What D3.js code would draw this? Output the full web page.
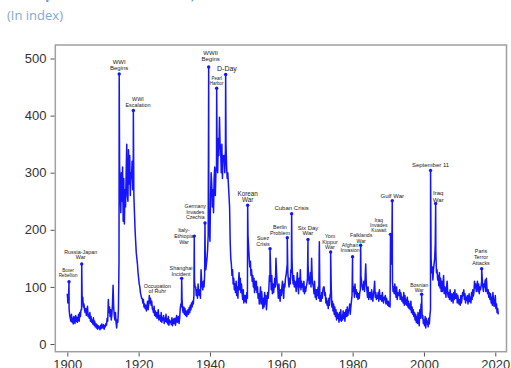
<!DOCTYPE html>
<html><head><meta charset="utf-8">
<script src="https://cdn.jsdelivr.net/npm/d3@7"></script>
<style>
body{margin:0;background:#fff;}
svg{display:block;font-family:"Liberation Sans",Arial,Helvetica,sans-serif;}
</style>
</head><body>
<svg id="chart" width="511" height="368"></svg>
<script>
// ---------- DATA ----------
const startYear = 1900;
const samplesPerYear = 6;   // one value every two months
const gprRows = [
 [88,72,80,62,50,45],[40,52,38,45,35,48],[42,36,50,40,47,38],[45,52,40,55,48,60],[60,75,82,65,70,60],
 [55,62,50,58,66,48],[52,45,55,40,48,38],[42,35,46,33,40,30],[36,28,34,26,32,28],[30,25,33,27,35,29],
 [28,34,26,32,30,36],[33,45,40,78,55,65],[48,60,42,52,70,103],[65,50,42,55,38,28],[42,38,60,145,310,275],
 [230,300,250,310,215,290],[210,270,240,300,350,260],[250,340,280,330,260,300],[290,320,270,330,260,230],[200,180,160,150,140,125],
 [115,105,100,90,85,80],[80,72,78,65,70,62],[68,58,64,75,60,70],[85,72,80,68,75,62],[60,55,66,50,58,48],
 [55,45,52,60,42,50],[48,40,55,38,46,42],[50,36,45,40,52,38],[44,35,48,33,42,38],[40,34,46,32,38,44],
 [36,45,33,42,50,38],[42,48,36,45,62,70],[65,80,60,55,65,52],[62,50,58,48,55,60],[52,64,55,68,60,72],
 [65,75,70,85,110,100],[100,85,95,80,105,90],[85,95,80,130,110,100],[95,110,100,120,160,130],[140,150,165,190,240,200],
 [180,260,300,280,240,270],[230,290,310,260,300,310],[330,300,360,330,397,350],[340,300,350,290,330,320],[330,300,340,350,310,290],
 [300,280,260,240,180,150],[140,120,130,105,115,95],[105,90,110,85,100,80],[110,125,95,115,90,105],[90,78,95,72,85,75],
 [85,72,90,80,190,170],[150,135,145,120,130,110],[120,100,115,90,110,95],[110,90,100,80,88,70],[85,100,70,92,78,62],
 [80,65,90,70,85,60],[75,90,80,95,120,110],[135,95,120,88,105,90],[100,115,100,150,125,105],[100,80,105,85,75,95],
 [85,100,110,90,80,105],[100,115,120,130,140,125],[110,100,115,105,130,125],[150,115,105,120,100,110],[105,92,110,125,100,88],
 [115,100,130,95,110,100],[105,92,110,88,100,92],[100,105,115,140,115,105],[110,125,100,150,115,105],[100,88,110,82,95,78],
 [95,85,100,80,179,75],[85,75,90,80,95,100],[100,85,90,72,80,68],[75,62,80,68,85,90],[100,65,75,58,70,52],
 [65,48,60,42,55,45],[52,38,55,42,60,40],[50,42,58,45,55,40],[55,60,48,65,50,58],[60,70,52,65,75,85],
 [110,92,100,82,105,88],[95,82,90,78,88,80],[90,95,120,110,100,95],[100,110,92,115,140,105],[95,82,100,78,90,82],
 [90,78,95,82,75,88],[95,110,82,90,78,85],[80,90,75,95,82,78],[85,75,90,78,72,82],[78,85,70,80,74,68],
 [75,66,72,65,160,140],[175,110,92,100,88,105],[95,82,100,78,90,85],[85,95,78,90,82,75],[82,72,90,68,85,70],
 [78,68,82,65,75,62],[70,60,75,55,65,52],[60,48,55,42,52,38],[48,36,55,40,32,60],[45,70,60,45,50,36],
 [42,32,48,28,45,35],[40,30,45,35,50,60],[150,125,135,112,130,140],[150,175,160,125,130,112],[120,102,125,98,115,92],
 [110,92,105,120,88,100],[95,82,100,110,88,82],[90,78,95,82,75,88],[85,72,90,78,95,80],[80,88,72,85,76,70],
 [78,68,85,72,80,90],[85,95,78,88,72,82],[76,85,70,80,88,74],[82,72,90,78,95,84],[90,110,98,105,92,100],
 [110,92,105,88,100,95],[100,110,115,100,92,105],[100,112,92,115,98,88],[95,82,90,78,88,72],[82,68,90,76,66,75],
 [85,62,70,55,62,52]
];

const eventLabels = ["Boxer\nRebellion","Russia-Japan\nWar","WWI\nBegins","WWI\nEscalation","Occupation\nof Ruhr",
 "Shanghai\nIncident","Italy-\nEthiopia\nWar","Germany\nInvades\nCzechia","WWII\nBegins","Pearl\nHarbor","D-Day",
 "Korean\nWar","Suez\nCrisis","Berlin\nProblem","Cuban Crisis","Six Day\nWar","Yom\nKippur\nWar","Afghan\nInvasion",
 "Falklands\nWar","Iraq\nInvades\nKuwait","Gulf War","Bosnian\nWar","September 11","Iraq\nWar","Paris\nTerror\nAttacks"];
const eventDates = [1900.48,1904.04,1914.55,1918.52,1923.0,1932.07,1935.6,1938.6,1939.64,1941.88,1944.4,
 1950.57,1956.84,1961.68,1962.9,1967.48,1973.84,1979.98,1982.25,1990.62,1991.11,1999.35,2001.85,2003.28,2016.18];
const eventValues = [109,140,473,409,85,115,189,212,485,448,472,243,167,186,228,183,161,153,173,192,251,87,304,246,132];
const eventMarked = [1,1,1,1,0,1,1,1,1,1,1,1,1,1,1,1,1,1,1,1,1,1,1,1,1];

const xTickValues = [1900,1920,1940,1960,1980,2000,2020];
const yTickValues = [0,100,200,300,400,500];
const subtitle = "(In index)";
const title = "Geopolitical Risk Index, 1900–2020";

// ---------- LAYOUT (label offsets from the marker, font sizes) ----------
const labelLayout = {
 "Boxer\nRebellion":[-1,-11,4.5,4.6], "Russia-Japan\nWar":[-1,-12.3,5.4,5.4], "WWI\nBegins":[0,-11.5,6,5.8],
 "WWI\nEscalation":[4.6,-11.4,5.4,6], "Occupation\nof Ruhr":[8,-9.6,5.4,5.2], "Shanghai\nIncident":[-0.7,-10.3,5.4,5.5],
 "Italy-\nEthiopia\nWar":[-10.3,-6,5.4,5.8], "Germany\nInvades\nCzechia":[-9.7,-17,5.2,5.6], "WWII\nBegins":[2,-14,6,6.2],
 "Pearl\nHarbor":[0,-10,4.5,5], "D-Day":[1.3,-6,7,7], "Korean\nWar":[0,-12,6.3,6],
 "Suez\nCrisis":[-7,-10.3,5.4,5.8], "Berlin\nProblem":[-7.3,-10.6,5.4,5.4], "Cuban Crisis":[0,-5.6,6,6],
 "Six Day\nWar":[0,-11.7,6,5.5], "Yom\nKippur\nWar":[-0.7,-16,5.4,5.5], "Afghan\nInvasion":[-2.5,-11.6,5.2,5.4],
 "Falklands\nWar":[0.5,-9.8,5.2,5.2], "Iraq\nInvades\nKuwait":[-11.7,-14.3,5,5], "Gulf War":[0,-5,6,6],
 "Bosnian\nWar":[-2.4,-9.7,5,5.7], "September 11":[0,-5,6,6], "Iraq\nWar":[2.6,-10.6,6,7.2],
 "Paris\nTerror\nAttacks":[-0.7,-17.6,5.4,6]
};

// ---------- BUILD SERIES ----------
const series = [];
gprRows.forEach((row, i) => row.forEach((v, j) => series.push({date: startYear + i + j / samplesPerYear, value: v})));
const events = eventLabels.map((l, i) => ({label: l, date: eventDates[i], value: eventValues[i], marked: !!eventMarked[i]}));
events.filter(e => e.marked).forEach(e => series.push({date: e.date, value: e.value}));
series.sort((a, b) => a.date - b.date);

// ---------- DRAW ----------
const svg = d3.select("#chart");
const frame = {left: 55.3, right: 506.5, top: 45, bottom: 351.7};
const x = d3.scaleLinear().domain([1900, 2020]).range([67.3, 495.3]);
const y = d3.scaleLinear().domain([0, 500]).range([344, 58.5]);

svg.append("text").attr("x", 14).attr("y", -1).attr("font-size", 16).attr("font-weight", "bold")
  .attr("fill", "#6d9bd0").text(title);
svg.append("text").attr("x", 7).attr("y", 20).attr("font-size", 13).attr("fill", "#7fa9d6")
  .attr("font-family", "'Open Sans','Noto Sans',sans-serif").text(subtitle);

svg.append("rect").attr("x", frame.left).attr("y", frame.top)
  .attr("width", frame.right - frame.left).attr("height", frame.bottom - frame.top)
  .attr("fill", "none").attr("stroke", "#a0a0a0").attr("stroke-width", 1.5);

const yAxis = svg.append("g").attr("transform", `translate(${frame.left - 0.8},0)`)
  .call(d3.axisLeft(y).tickValues(yTickValues).tickSize(4).tickPadding(4));
const xAxis = svg.append("g").attr("transform", `translate(0,${frame.bottom + 0.8})`)
  .call(d3.axisBottom(x).tickValues(xTickValues).tickFormat(d3.format("d")).tickSize(4).tickPadding(3));
[yAxis, xAxis].forEach(g => {
  g.select(".domain").remove();
  g.selectAll(".tick line").attr("stroke", "#555").attr("stroke-width", 1);
  g.selectAll(".tick text").attr("font-size", 13).attr("fill", "#333")
    .attr("font-family", "'Liberation Sans',Arial,sans-serif");
});

const line = d3.line().x(d => x(d.date)).y(d => y(d.value));
svg.append("path").datum(series).attr("d", line)
  .attr("fill", "none").attr("stroke", "#1414ff").attr("stroke-width", 1.5).attr("stroke-linejoin", "round");

svg.selectAll("circle.ev").data(events.filter(e => e.marked)).join("circle").attr("class", "ev")
  .attr("cx", d => x(d.date)).attr("cy", d => y(d.value)).attr("r", 1.7).attr("fill", "#1414ff");

events.forEach(e => {
  const [dx, dy, fs, lh] = labelLayout[e.label];
  const cx = x(e.date) + dx, cy = y(e.value) + dy;
  const t = svg.append("text").attr("text-anchor", "middle").attr("font-size", fs).attr("fill", "#222");
  e.label.split("\n").forEach((ln, k) => {
    t.append("tspan").attr("x", cx).attr("y", cy + k * lh).attr("dominant-baseline", "central").text(ln);
  });
});
</script>
</body></html>
